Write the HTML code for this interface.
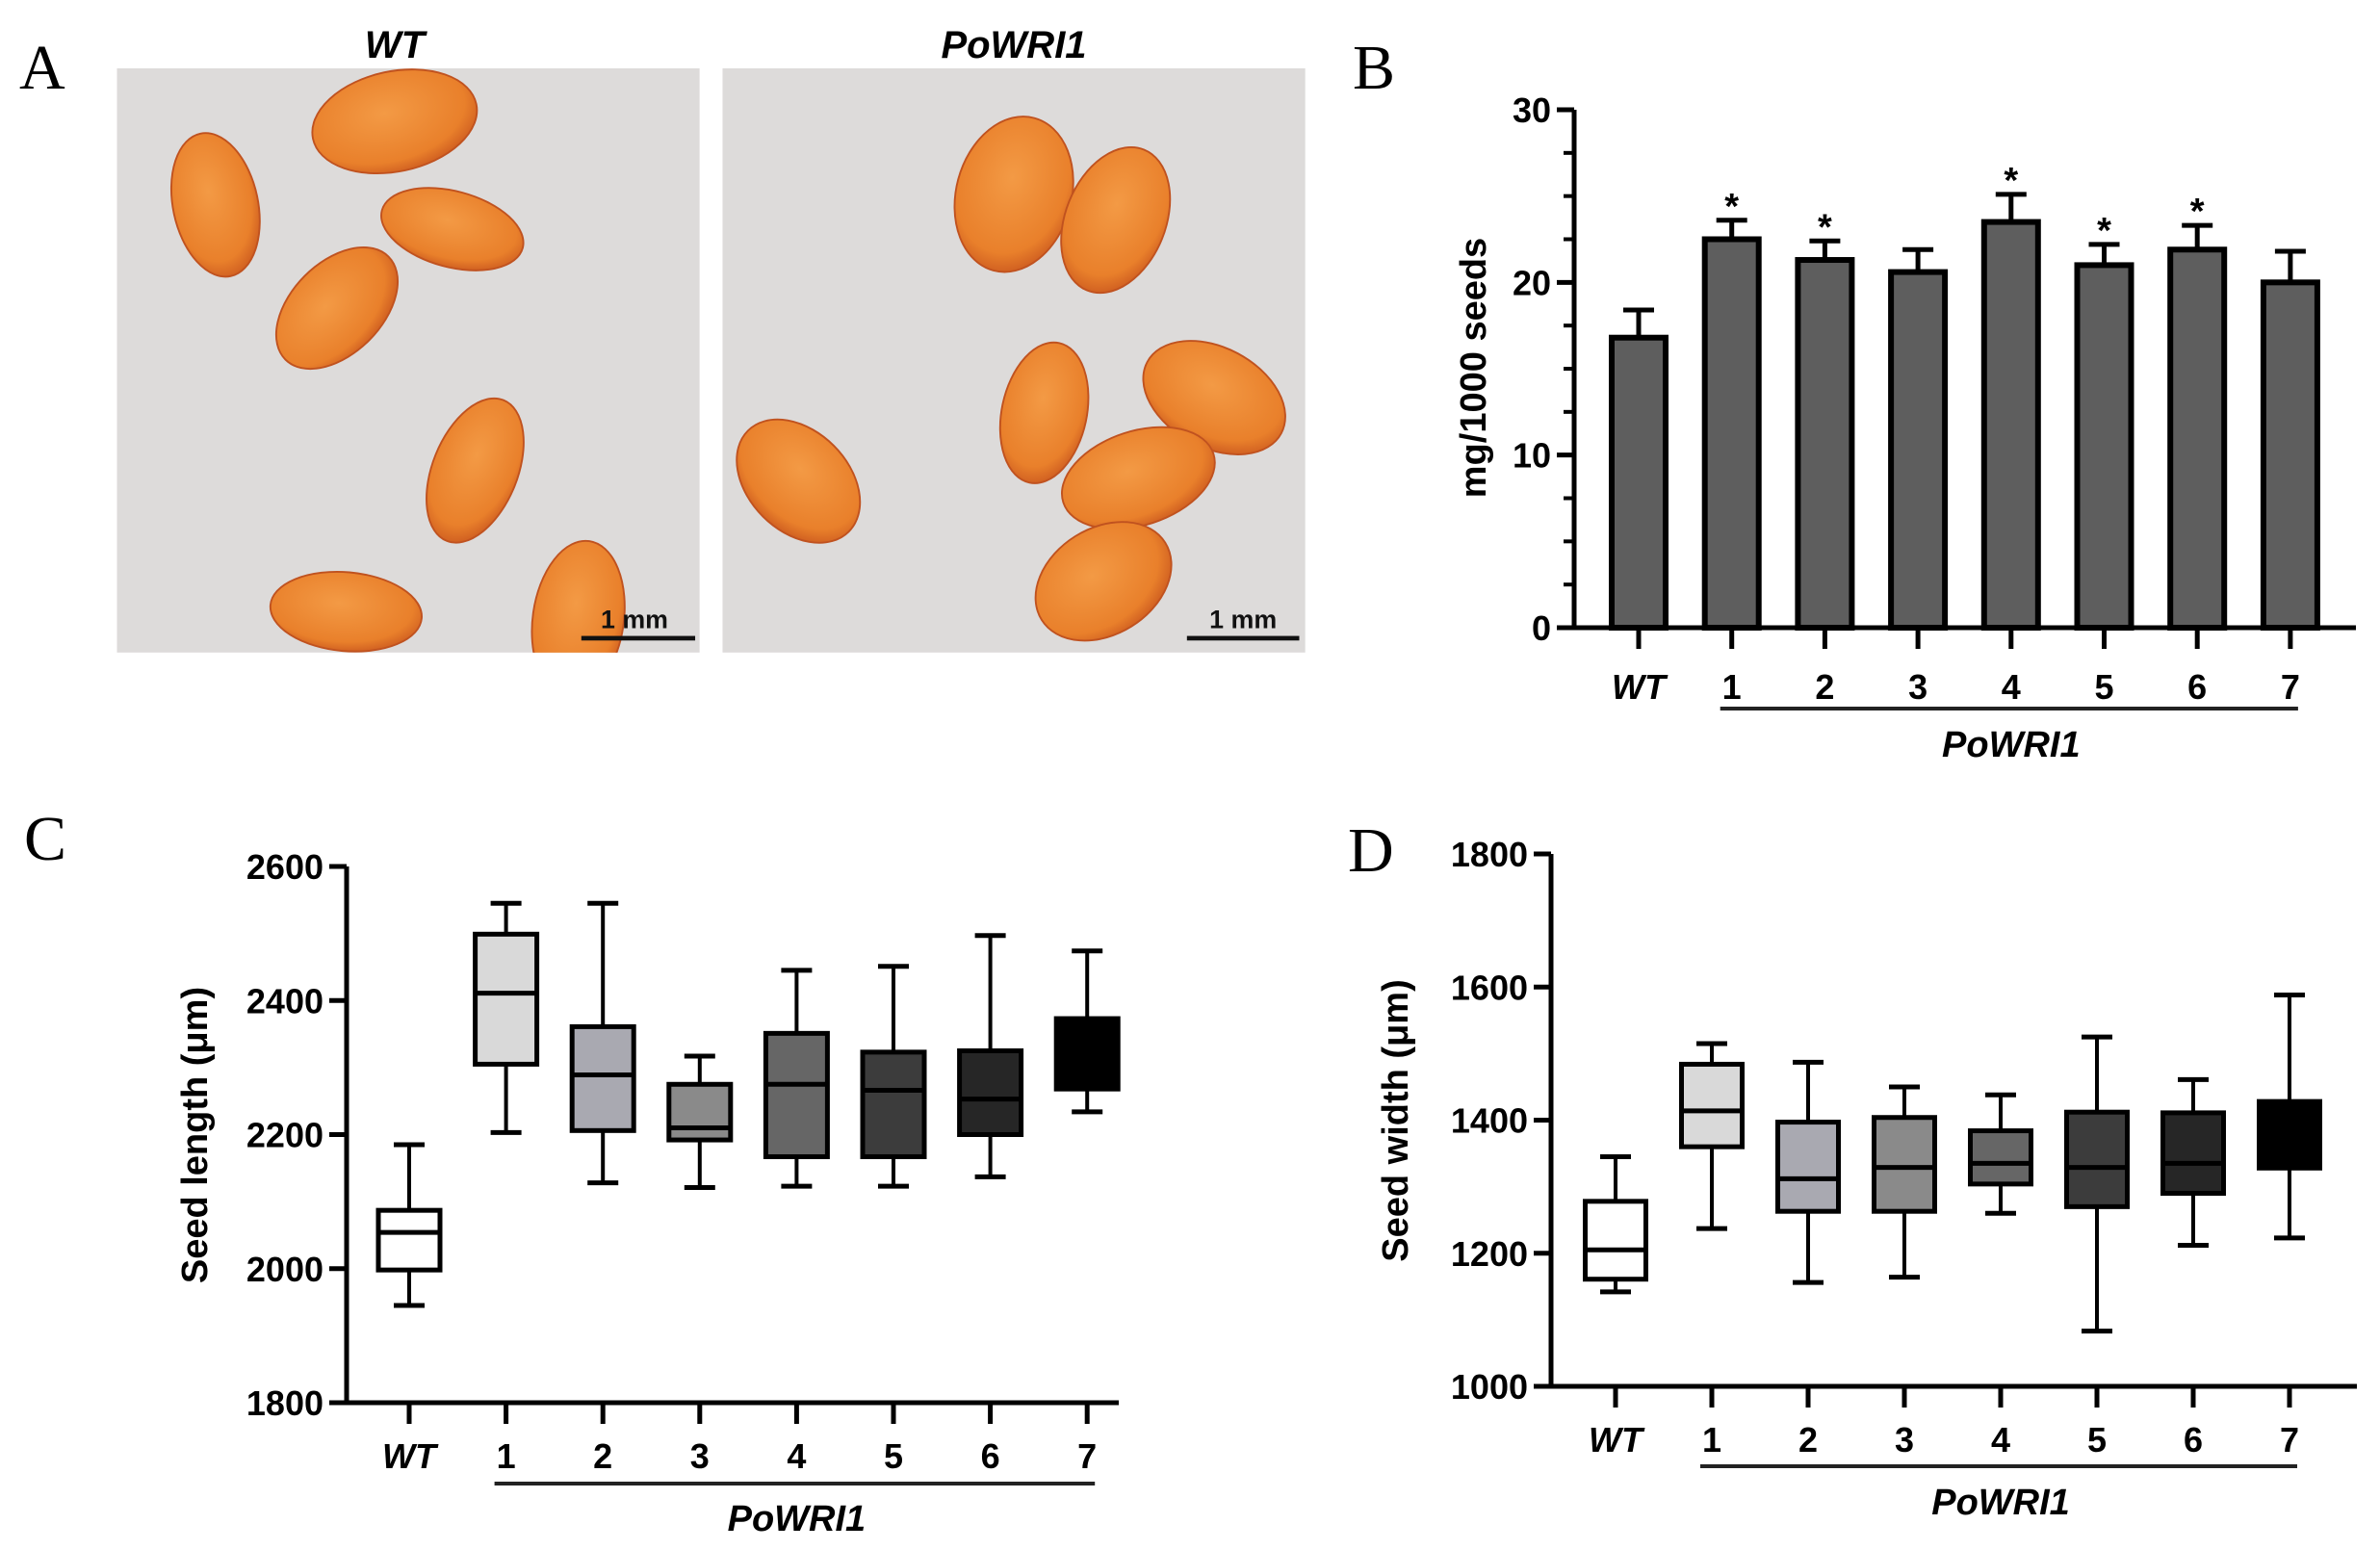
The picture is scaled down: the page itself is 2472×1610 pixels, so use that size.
<!DOCTYPE html>
<html><head><meta charset="utf-8"><style>
html,body{margin:0;padding:0;background:#fff}
svg{display:block}
text{font-family:"Liberation Sans",Arial,sans-serif}
</style></head><body>
<svg id="fig" width="2472" height="1610" viewBox="0 0 2472 1610" xmlns="http://www.w3.org/2000/svg">
<defs>
<radialGradient id="seedg" cx="45%" cy="40%" r="65%"><stop offset="0" stop-color="#f39a45"/><stop offset="0.75" stop-color="#e9802b"/><stop offset="1" stop-color="#c9561e"/></radialGradient>
<clipPath id="clipL"><rect x="77" y="45" width="384" height="385"/></clipPath>
<clipPath id="clipR"><rect x="476" y="45" width="384" height="385"/></clipPath>
</defs>
<text x="20" y="92" style="font-family:'Liberation Serif',serif" font-size="66">A</text>
<text x="1405" y="92" style="font-family:'Liberation Serif',serif" font-size="66">B</text>
<text x="25" y="893" style="font-family:'Liberation Serif',serif" font-size="66">C</text>
<text x="1400" y="905" style="font-family:'Liberation Serif',serif" font-size="66">D</text>
<text x="410" y="60" text-anchor="middle" font-size="40" font-weight="bold" font-style="italic">WT</text>
<text x="1053" y="60" text-anchor="middle" font-size="40" font-weight="bold" font-style="italic">PoWRI1</text>
<g transform="scale(1.5765)">
 <g clip-path="url(#clipL)">
  <rect x="77" y="45" width="384" height="385" fill="#dddbda"/>
  <g fill="url(#seedg)" stroke="#c0521f" stroke-width="1.2">
   <ellipse cx="142" cy="135" rx="28" ry="48" transform="rotate(-12 142 135)"/>
   <ellipse cx="260" cy="80" rx="55" ry="33" transform="rotate(-12 260 80)"/>
   <ellipse cx="298" cy="151" rx="48" ry="25" transform="rotate(15 298 151)"/>
   <ellipse cx="222" cy="203" rx="48" ry="30" transform="rotate(-45 222 203)"/>
   <ellipse cx="313" cy="310" rx="28" ry="50" transform="rotate(22 313 310)"/>
   <ellipse cx="228" cy="403" rx="50" ry="26" transform="rotate(5 228 403)"/>
   <ellipse cx="381" cy="408" rx="30" ry="52" transform="rotate(8 381 408)"/>
  </g>
  <rect x="383" y="419" width="75" height="3" fill="#111"/>
  <text x="418" y="414" text-anchor="middle" font-size="17" font-weight="bold" fill="#111">1 mm</text>
 </g>
 <g clip-path="url(#clipR)">
  <rect x="476" y="45" width="384" height="385" fill="#dddbda"/>
  <g fill="url(#seedg)" stroke="#c0521f" stroke-width="1.2">
   <ellipse cx="668" cy="128" rx="38" ry="52" transform="rotate(15 668 128)"/>
   <ellipse cx="735" cy="145" rx="33" ry="50" transform="rotate(22 735 145)"/>
   <ellipse cx="688" cy="272" rx="28" ry="47" transform="rotate(12 688 272)"/>
   <ellipse cx="800" cy="262" rx="50" ry="33" transform="rotate(28 800 262)"/>
   <ellipse cx="526" cy="317" rx="47" ry="33" transform="rotate(45 526 317)"/>
   <ellipse cx="750" cy="315" rx="52" ry="31" transform="rotate(-18 750 315)"/>
   <ellipse cx="727" cy="383" rx="48" ry="35" transform="rotate(-32 727 383)"/>
  </g>
  <rect x="782" y="419" width="74" height="3" fill="#111"/>
  <text x="819" y="414" text-anchor="middle" font-size="17" font-weight="bold" fill="#111">1 mm</text>
 </g>
</g>
<g id="chartB"></g>
<g id="chartC"></g>
<g id="chartD"></g>
</svg>
<script>
const categories = ["WT","1","2","3","4","5","6","7"];
const weightMeans = [16.8,22.5,21.3,20.6,23.5,21.0,21.9,20.0];
const weightErrTops = [18.4,23.6,22.4,21.9,25.1,22.2,23.3,21.8];
const weightSignificant = [false,true,true,false,true,true,true,false];
const weightTicks = [0,10,20,30];
const lengthMax = [2185,2545,2545,2317,2445,2451,2497,2474];
const lengthQ3 = [2087,2499,2361,2275,2351,2323,2325,2373];
const lengthMedian = [2054,2411,2289,2210,2275,2266,2253,2330];
const lengthQ1 = [1998,2305,2206,2192,2167,2167,2200,2268];
const lengthMin = [1945,2203,2128,2121,2123,2123,2137,2234];
const lengthTicks = [1800,2000,2200,2400,2600];
const widthMax = [1345,1515,1487,1450,1438,1525,1461,1588];
const widthQ3 = [1278,1484,1397,1404,1384,1412,1411,1428];
const widthMedian = [1205,1414,1312,1329,1335,1329,1335,1380];
const widthQ1 = [1161,1360,1263,1263,1304,1270,1290,1328];
const widthMin = [1142,1237,1156,1164,1260,1083,1212,1223];
const widthTicks = [1000,1200,1400,1600,1800];
const boxFills = ["#ffffff","#d9d9d9","#a9a9b1","#8a8a8a","#666666","#3c3c3c","#262626","#000000"];

const NS="http://www.w3.org/2000/svg";
function mk(parent,tag,attrs,text){const e=document.createElementNS(NS,tag);for(const k in attrs)e.setAttribute(k,attrs[k]);if(text!==undefined)e.textContent=text;parent.appendChild(e);return e;}

function axes(g,cfg){
  let el=mk(g,'line',{x1:cfg.ax,y1:cfg.y(cfg.ticks[cfg.ticks.length-1]),x2:cfg.ax,y2:cfg.y(cfg.ticks[0]),stroke:'#000','stroke-width':5});
  
  
  el=mk(g,'line',{x1:cfg.ax-18,y1:cfg.y(cfg.ticks[0]),x2:cfg.axEnd,y2:cfg.y(cfg.ticks[0]),stroke:'#000','stroke-width':5});
  
  
  cfg.ticks.forEach(t=>{
    const l=mk(g,'line',{x1:cfg.ax-18,y1:cfg.y(t),x2:cfg.ax,y2:cfg.y(t),stroke:'#000','stroke-width':5});
    
    
    const tx=mk(g,'text',{x:cfg.ax-24,y:cfg.y(t)+13,'text-anchor':'end','font-size':36,'font-weight':'bold'},String(t));
    
    
  });
  (cfg.minor||[]).forEach(t=>{
    const l=mk(g,'line',{x1:cfg.ax-11,y1:cfg.y(t),x2:cfg.ax,y2:cfg.y(t),stroke:'#000','stroke-width':4});
    
    
  });
  const base=cfg.y(cfg.ticks[0]);
  categories.forEach((c,i)=>{
    const x=cfg.x(i);
    const l=mk(g,'line',{x1:x,y1:base,x2:x,y2:base+22,stroke:'#000','stroke-width':5});
    
    
    const tx=mk(g,'text',{x:x,y:cfg.labY,'text-anchor':'middle','font-size':36,'font-weight':'bold','font-style':i===0?'italic':'normal'},c);
    
    
  });
  el=mk(g,'line',{x1:cfg.x(1)-12,y1:cfg.ulY,x2:cfg.x(7)+8,y2:cfg.ulY,stroke:'#222','stroke-width':4});
  
  
  el=mk(g,'text',{x:(cfg.x(1)+cfg.x(7))/2,y:cfg.grpY,'text-anchor':'middle','font-size':38,'font-weight':'bold','font-style':'italic'},'PoWRI1');
  
  
  el=mk(g,'text',{x:0,y:0,'text-anchor':'middle','font-size':38,'font-weight':'bold',transform:`translate(${cfg.ylX},${cfg.ylY}) rotate(-90)`},cfg.ylabel);
  
  
}

(function(){
  const g=document.getElementById('chartB');
  const y=v=>652-v/30*(652-114);
  const x=i=>1702+i*96.7;
  const minor=[];for(let v=2.5;v<30;v+=2.5){if(v%10!==0)minor.push(v);}
  weightMeans.forEach((m,i)=>{
    const cx=x(i);
    const e=mk(g,'line',{x1:cx,y1:y(m),x2:cx,y2:y(weightErrTops[i]),stroke:'#000','stroke-width':5});
    
    
    const c=mk(g,'line',{x1:cx-16,y1:y(weightErrTops[i]),x2:cx+16,y2:y(weightErrTops[i]),stroke:'#000','stroke-width':5});
    
    
    const b=mk(g,'rect',{x:cx-28,y:y(m),width:56,height:y(0)-y(m),fill:'#5e5e5e',stroke:'#000','stroke-width':6});
    
    
    if(weightSignificant[i]){
      const s=mk(g,'text',{x:cx,y:y(weightErrTops[i])-2,'text-anchor':'middle','font-size':38,'font-weight':'bold'},'*');
      
      
    }
  });
  axes(g,{ax:1635,axEnd:2447,y:y,x:x,ticks:weightTicks,minor:minor,labY:726,ulY:736,grpY:786,ylabel:'mg/1000 seeds',ylX:1543,ylY:382});
})();

function boxes(g,y,x,w,mx,q3,md,q1,mn){
  categories.forEach((c,i)=>{
    const cx=x(i);
    const wl=mk(g,'line',{x1:cx,y1:y(mx[i]),x2:cx,y2:y(mn[i]),stroke:'#000','stroke-width':4});
    
    
    [mx[i],mn[i]].forEach(v=>{
      const cp=mk(g,'line',{x1:cx-16,y1:y(v),x2:cx+16,y2:y(v),stroke:'#000','stroke-width':5});
      
      
    });
    const b=mk(g,'rect',{x:cx-w/2,y:y(q3[i]),width:w,height:y(q1[i])-y(q3[i]),fill:boxFills[i],stroke:'#000','stroke-width':5});
    
    
    const m=mk(g,'line',{x1:cx-w/2,y1:y(md[i]),x2:cx+w/2,y2:y(md[i]),stroke:'#000','stroke-width':5});
    
    
  });
}

(function(){
  const g=document.getElementById('chartC');
  const y=v=>1457-(v-1800)/800*(1457-900);
  const x=i=>425+i*100.6;
  boxes(g,y,x,64,lengthMax,lengthQ3,lengthMedian,lengthQ1,lengthMin);
  axes(g,{ax:360,axEnd:1162,y:y,x:x,ticks:lengthTicks,labY:1525,ulY:1541,grpY:1590,ylabel:'Seed length (μm)',ylX:215,ylY:1179});
})();

(function(){
  const g=document.getElementById('chartD');
  const y=v=>1440-(v-1000)/800*(1440-887);
  const x=i=>1678+i*100;
  boxes(g,y,x,63,widthMax,widthQ3,widthMedian,widthQ1,widthMin);
  axes(g,{ax:1611,axEnd:2448,y:y,x:x,ticks:widthTicks,labY:1508,ulY:1523,grpY:1573,ylabel:'Seed width (μm)',ylX:1462,ylY:1164});
})();
</script>
</body></html>
